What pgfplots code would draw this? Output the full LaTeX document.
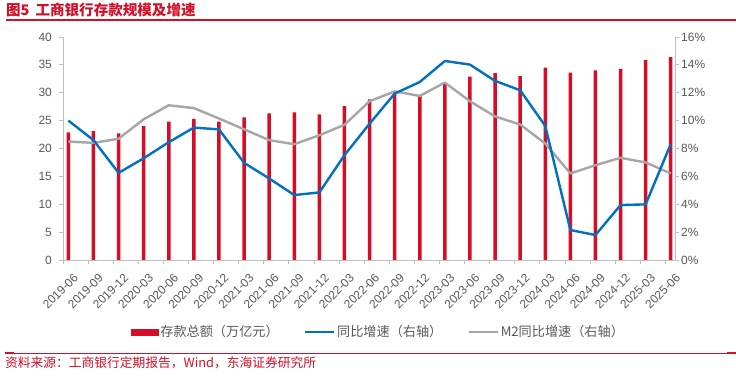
\documentclass[border=0pt]{standalone}
\usepackage{pgfplots}
\usepackage{pgfplotstable}
\pgfplotsset{compat=1.18}
\usepackage{fontspec}
\setmainfont{Liberation Sans}
\newfontfamily\cjk{Noto Sans CJK SC}
\definecolor{barred}{RGB}{215,12,38}
\definecolor{lblue}{RGB}{0,112,192}
\definecolor{lgray}{RGB}{166,166,166}
\definecolor{txt}{RGB}{89,89,89}
\definecolor{axg}{RGB}{191,191,191}
\definecolor{titlered}{RGB}{210,16,40}

\pgfplotstableread{
i dep yoy m2
0 22.9 10.0 8.5
1 23.1 8.6 8.4
2 22.7 6.25 8.7
3 24.0 7.3 10.1
4 24.8 8.45 11.1
5 25.3 9.5 10.9
6 24.8 9.37 10.15
7 25.6 6.97 9.38
8 26.3 5.85 8.6
9 26.5 4.66 8.31
10 26.1 4.85 8.95
11 27.6 7.52 9.7
12 28.8 9.78 11.39
13 29.9 11.94 12.1
14 29.6 12.77 11.77
15 31.6 14.28 12.73
16 32.9 14.02 11.39
17 33.5 12.85 10.3
18 33.0 12.18 9.72
19 34.5 9.62 8.36
20 33.6 2.15 6.21
21 34.0 1.79 6.8
22 34.3 3.94 7.33
23 35.9 3.99 7.0
24 36.4 8.31 6.21
}\data

\begin{document}
\begin{tikzpicture}
\useasboundingbox (0bp,0bp) rectangle (736bp,376bp);
\fill[white] (0bp,0bp) rectangle (736bp,376bp);
\node[anchor=west, inner sep=0, text=titlered, font=\cjk\bfseries\fontsize{14.6}{15}\selectfont] at (6bp,366.5bp) {图5\hspace{6bp}工商银行存款规模及增速};
\draw[titlered, line width=1.8bp] (6bp,356bp) -- (736bp,356bp);

\pgfplotsset{
  base/.style={
    at={(63bp,116bp)}, anchor=south west,
    width=612bp, height=223bp, scale only axis,
    xmin=-0.215, xmax=24.17,
    tick align=outside, major tick length=4bp,
    axis line style={draw=axg, line width=0.8bp},
    tick style={draw=axg, line width=0.8bp},
    ticklabel style={text=txt, font=\fontsize{12}{12}\selectfont},
    /pgf/number format/assume math mode=true,
    clip=false,
  }
}

\begin{axis}[base,
  ymin=0, ymax=40, ytick={0,5,...,40},
  axis x line*=bottom, axis y line*=left,
  xtick={-0.215,0.785,...,23.8},
  xticklabels={2019-06,2019-09,2019-12,2020-03,2020-06,2020-09,2020-12,2021-03,2021-06,2021-09,2021-12,2022-03,2022-06,2022-09,2022-12,2023-03,2023-06,2023-09,2023-12,2024-03,2024-06,2024-09,2024-12,2025-03,2025-06},
  xticklabel style={rotate=45, anchor=north east, inner sep=0pt, xshift=1bp, yshift=-13bp},
  yticklabel style={inner sep=0pt, xshift=-7bp},
]
\addplot[ybar, bar width=3.5bp, bar shift=0pt, fill=barred, draw=none] table[x=i, y=dep] {\data};
\end{axis}

\begin{axis}[base,
  ymin=0, ymax=16, ytick={0,2,...,16},
  axis x line=none, axis y line*=right,
  yticklabel={\pgfmathprintnumber{\tick}\%},
  yticklabel style={inner sep=0pt, xshift=2bp},
  legend columns=3,
  legend style={at={(axis description cs:0.1111,-0.3229)}, anchor=west,
    draw=none, fill=none, inner sep=0pt, outer sep=0pt,
    font=\cjk\fontsize{13.2}{14}\selectfont, text=txt,
    nodes={inner sep=2bp},
    /tikz/every even column/.append style={column sep=23bp}},
]
\addlegendimage{legend image code/.code={\fill[barred] (0bp,-3.25bp) rectangle (27bp,3.25bp);}}
\addlegendimage{legend image code/.code={\draw[lblue, line width=2.4bp] (0bp,0bp) -- (29bp,0bp);}}
\addlegendimage{legend image code/.code={\draw[lgray, line width=2.4bp] (0bp,0bp) -- (29bp,0bp);}}
\addplot[lgray, line width=2.4bp, line join=round, no markers, forget plot] table[x=i, y=m2] {\data};
\addplot[lblue, line width=2.4bp, line join=round, no markers, forget plot] table[x=i, y=yoy] {\data};
\legend{存款总额（万亿元）, 同比增速（右轴）, M2同比增速（右轴）}
\end{axis}

\draw[titlered, line width=0.7bp] (5bp,23bp) -- (736bp,23bp);
\draw[titlered, line width=1.6bp] (5bp,23bp) -- (14bp,23bp);
\draw[titlered, line width=1.6bp] (727bp,23bp) -- (736bp,23bp);
\node[anchor=west, inner sep=0, text=titlered, font=\cjk\fontsize{12.8}{13}\selectfont] at (5bp,13bp) {资料来源：工商银行定期报告，Wind，东海证券研究所};
\end{tikzpicture}
\end{document}
